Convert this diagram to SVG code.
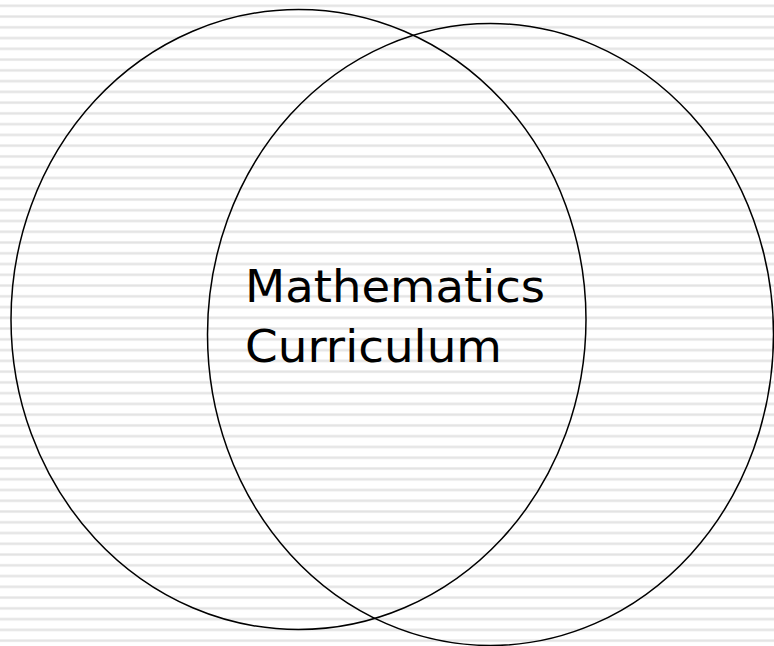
<svg xmlns="http://www.w3.org/2000/svg" width="774" height="646" viewBox="0 0 774 646">
  <defs>
    <pattern id="stripes" patternUnits="userSpaceOnUse" x="0" y="4.3" width="774" height="10.76">
      <rect x="0" y="0" width="774" height="10.76" fill="#ffffff"/>
      <rect x="0" y="0" width="774" height="3" fill="#f0f0f0"/>
      <rect x="0" y="0.7" width="774" height="1.6" fill="#e3e3e3"/>
    </pattern>
  </defs>
  <style>
    .ring { fill: none; stroke: #000000; stroke-width: 1.5; }
    .label { font-family: Verdana, "DejaVu Sans", sans-serif; font-size: 45px; fill: #000000; }
  </style>
  <rect id="background" x="0" y="0" width="774" height="646" fill="url(#stripes)"/>
  <g id="circle-left">
    <ellipse class="ring" cx="298.5" cy="319.5" rx="287.5" ry="310"/>
  </g>
  <g id="circle-right">
    <ellipse class="ring" cx="490.5" cy="334.5" rx="283" ry="311"/>
  </g>
  <g id="label">
    <text class="label" x="245" y="302" textLength="300" lengthAdjust="spacingAndGlyphs">Mathematics</text>
    <text class="label" x="245" y="362" textLength="257" lengthAdjust="spacingAndGlyphs">Curriculum</text>
  </g>
  <g id="connectors"/>
</svg>
